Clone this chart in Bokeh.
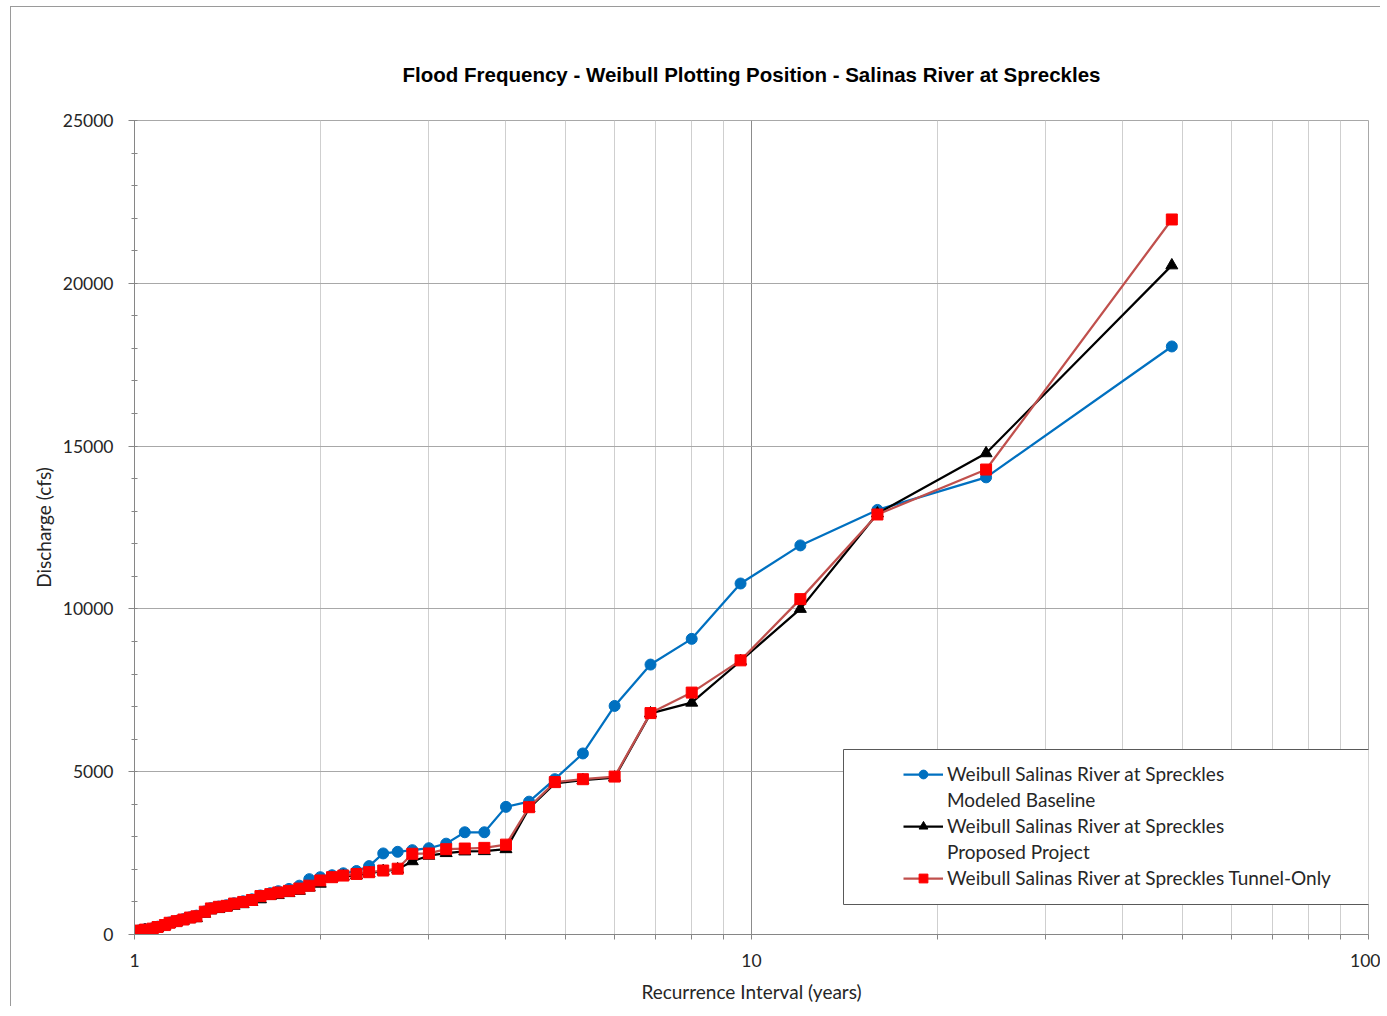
from bokeh.plotting import figure
from bokeh.models import (FixedTicker, SingleIntervalTicker, Legend, LegendItem,
                          BoxAnnotation, BasicTickFormatter)
from bokeh.embed import file_html
from bokeh.resources import INLINE

# Recurrence interval (years), Weibull plotting position, rank 1..47
recurrence = [48.0, 24.0, 16.0, 12.0, 9.6, 8.0, 6.86, 6.0, 5.33, 4.8, 4.36, 4.0,
              3.69, 3.43, 3.2, 3.0, 2.82, 2.67, 2.53, 2.4, 2.29, 2.18, 2.09, 2.0,
              1.92, 1.85, 1.78, 1.71, 1.66, 1.6, 1.55, 1.5, 1.45, 1.41, 1.37, 1.33,
              1.30, 1.26, 1.23, 1.2, 1.17, 1.14, 1.12, 1.09, 1.07, 1.04, 1.02]

baseline = [18060, 14040, 13040, 11950, 10780, 9080, 8290, 7020, 5560, 4770, 4080, 3920,
            3140, 3140, 2790, 2650, 2590, 2540, 2490, 2100, 1950, 1880, 1820, 1760,
            1700, 1500, 1400, 1330, 1270, 1200, 1080, 1020, 960, 900, 860, 810,
            710, 580, 530, 470, 420, 370, 300, 240, 190, 160, 130]

proposed = [20550, 14780, 12930, 10000, 8400, 7120, 6790, 4820, 4740, 4640, 3880, 2620,
            2560, 2550, 2500, 2420, 2250, 2000, 1950, 1880, 1820, 1780, 1720, 1560,
            1440, 1340, 1270, 1210, 1180, 1080, 1000, 930, 880, 830, 780, 740,
            640, 500, 470, 420, 370, 320, 260, 200, 160, 130, 100]

tunnel = [21960, 14280, 12900, 10300, 8420, 7430, 6800, 4850, 4770, 4680, 3910, 2760,
          2660, 2640, 2620, 2490, 2480, 2020, 1965, 1913, 1860, 1810, 1760, 1660,
          1500, 1410, 1340, 1290, 1240, 1180, 1060, 1000, 950, 880, 850, 800,
          700, 560, 520, 460, 410, 360, 290, 230, 180, 150, 120]

x_major_ticks = [1, 10, 100]
x_minor_ticks = [2, 3, 4, 5, 6, 7, 8, 9, 20, 30, 40, 50, 60, 70, 80, 90]

title_text = "Flood Frequency - Weibull Plotting Position - Salinas River at Spreckles"
legend_lines = ["Weibull Salinas River at Spreckles", "Modeled Baseline",
                "Weibull Salinas River at Spreckles", "Proposed Project",
                "Weibull Salinas River at Spreckles Tunnel-Only"]

p = figure(width=1370, height=1000, x_axis_type="log", x_range=(1, 100), y_range=(0, 25000),
           output_backend="svg", toolbar_location=None,
           min_border_left=123, min_border_right=13, min_border_top=113, min_border_bottom=73,
           title=title_text)
p.styles = {"margin-left": "10px", "margin-top": "6px",
            "border-left": "1px solid #9a9a9a", "border-top": "1px solid #9a9a9a"}

p.title.text_font = "Liberation Sans"
p.title.text_font_style = "bold"
p.title.text_font_size = "20.5px"
p.title.align = "center"
p.title.text_color = "#000000"
p.title.standoff = 70

# axes
p.xaxis.ticker = FixedTicker(ticks=x_major_ticks, minor_ticks=x_minor_ticks)
p.xaxis.formatter = BasicTickFormatter()
p.yaxis.ticker = SingleIntervalTicker(interval=5000, num_minor_ticks=5)
p.xaxis.axis_label = "Recurrence Interval (years)"
p.yaxis.axis_label = "Discharge (cfs)"
for ax in (p.xaxis, p.yaxis):
    ax.axis_line_color = "#868686"
    ax.major_tick_line_color = "#868686"
    ax.minor_tick_line_color = "#868686"
    ax.major_label_text_font = "Lato"
    ax.major_label_text_font_size = "17.5px"
    ax.major_label_text_color = "#262626"
    ax.axis_label_text_font = "Lato"
    ax.axis_label_text_font_size = "19px"
    ax.axis_label_text_font_style = "normal"
    ax.axis_label_text_color = "#262626"
p.xaxis.major_tick_in = 0
p.xaxis.major_tick_out = 5
p.xaxis.minor_tick_in = 0
p.xaxis.minor_tick_out = 5
p.xaxis.major_label_standoff = 14
p.xaxis.axis_label_standoff = 10
p.yaxis.major_tick_in = 0
p.yaxis.major_tick_out = 6
p.yaxis.minor_tick_in = 3
p.yaxis.minor_tick_out = 3
p.yaxis.major_label_standoff = 15
p.yaxis.axis_label_standoff = 5

p.xgrid.grid_line_color = "#8c8c8c"
p.xgrid.minor_grid_line_color = "#cfcfcf"
p.ygrid.grid_line_color = "#a8a8a8"
p.outline_line_color = "#a8a8a8"

# series
bl = p.line(recurrence, baseline, line_color="#0070c0", line_width=2.25)
bs = p.scatter(recurrence, baseline, marker="circle", size=11,
               fill_color="#0070c0", line_color="#0070c0")
kl = p.line(recurrence, proposed, line_color="#000000", line_width=2.25)
ks = p.scatter(recurrence, proposed, marker="triangle", size=12,
               fill_color="#000000", line_color="#000000")
rl = p.line(recurrence, tunnel, line_color="#c0504d", line_width=2.25)
rs = p.scatter(recurrence, tunnel, marker="square", size=11,
               fill_color="#ff0000", line_color="#ff0000")
d1 = p.line(x=[], y=[], line_alpha=0)
d2 = p.line(x=[], y=[], line_alpha=0)

box = BoxAnnotation(left=709, right=1244, bottom=30, top=185,
                    left_units="screen", right_units="screen",
                    top_units="screen", bottom_units="screen",
                    fill_color="white", fill_alpha=1.0,
                    line_color="#595959", line_alpha=1.0, line_width=1)
p.add_layout(box)

items = [LegendItem(label=legend_lines[0], renderers=[bl, bs]),
         LegendItem(label=legend_lines[1], renderers=[d1]),
         LegendItem(label=legend_lines[2], renderers=[kl, ks]),
         LegendItem(label=legend_lines[3], renderers=[d2]),
         LegendItem(label=legend_lines[4], renderers=[rl, rs])]
legend = Legend(items=items, location=(769, 45), padding=0, margin=0, spacing=3,
                glyph_width=40, glyph_height=22, label_height=22, label_standoff=4,
                label_text_font="Lato", label_text_font_size="19px",
                label_text_color="#262626",
                border_line_alpha=0, background_fill_alpha=0)
p.add_layout(legend)

open("out.html", "w").write(file_html(p, INLINE))
